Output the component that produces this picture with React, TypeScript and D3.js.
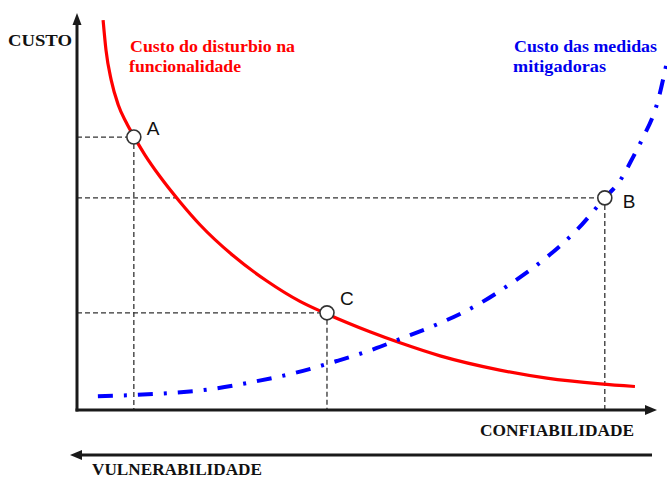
import React from "react";
import * as d3 from "d3";

// curve readings (confiabilidade 0-100, custo 0-100)
const redX = [4.5, 5.0, 5.9, 7.1, 8.45, 9.83, 11.7, 14.3, 17.8, 21.2, 26.9, 32.8, 38.45, 43.1, 50.5, 55.7, 62.6, 72.9, 81.0, 90.2, 96.2];
const redY = [98.7, 91.1, 83.5, 77.3, 72.9, 69.2, 64.6, 59.1, 52.6, 46.9, 39.1, 32.6, 27.5, 24.3, 19.8, 17.0, 13.7, 10.1, 8.05, 6.6, 5.95];

const blueX = [3.6, 16.0, 23.3, 30.3, 37.6, 44.8, 51.7, 55.2, 62.6, 69.0, 75.0, 81.0, 86.2, 91.0, 93.6, 95.9, 97.4, 100.2, 101.7];
const blueY = [3.5, 4.3, 5.3, 7.1, 9.4, 12.4, 15.7, 17.7, 22.0, 26.6, 32.2, 38.7, 45.6, 53.7, 58.0, 64.1, 68.4, 78.5, 88.1];

const pointLabels = ["A", "B", "C"];
const pointX = [9.8, 91.0, 43.1];
const pointY = [69.1, 53.7, 24.6];

const redTitle = ["Custo do disturbio na", "funcionalidade"];
const blueTitle = ["Custo das medidas", "mitigadoras"];

const W = 667;
const H = 477;
const x0 = 77;
const y0 = 410;

const serif = "'Liberation Serif', 'Times New Roman', serif";
const sans = "'Liberation Sans', Arial, sans-serif";

export default function App() {
  const x = d3.scaleLinear().domain([0, 100]).range([x0, 657]);
  const y = d3.scaleLinear().domain([0, 100]).range([y0, 15]);

  const line = d3
    .line<[number, number]>()
    .x((d) => x(d[0]))
    .y((d) => y(d[1]))
    .curve(d3.curveMonotoneX);

  const red = line(redX.map((v, i) => [v, redY[i]]));
  const blue = line(blueX.map((v, i) => [v, blueY[i]]));

  const axisColor = "#1a1a1a";
  const dash = "#333";

  return (
    <svg
      width={W}
      height={H}
      style={{ position: "absolute", left: 0, top: 0, background: "#fff" }}
    >
      {/* guide lines */}
      {pointLabels.map((lab, i) => (
        <g key={lab}>
          <line
            x1={x0}
            x2={x(pointX[i]) - 7}
            y1={y(pointY[i])}
            y2={y(pointY[i])}
            stroke={dash}
            strokeWidth={1.3}
            strokeDasharray="5 3"
          />
          <line
            x1={x(pointX[i])}
            x2={x(pointX[i])}
            y1={y(pointY[i]) + 7}
            y2={y0}
            stroke={dash}
            strokeWidth={1.3}
            strokeDasharray="5 3"
          />
        </g>
      ))}

      {/* curves */}
      <path d={red ?? ""} fill="none" stroke="#ff0000" strokeWidth={3.2} />
      <path
        d={blue ?? ""}
        fill="none"
        stroke="#0000ff"
        strokeWidth={4}
        strokeDasharray="15 11 3 11"
      />

      {/* axes */}
      <line x1={x0} x2={x0} y1={y0 + 1.5} y2={22} stroke={axisColor} strokeWidth={3} />
      <path d={`M${x0},13 L${x0 - 4.5},25 L${x0 + 4.5},25 Z`} fill={axisColor} />
      <line x1={x0 - 1.5} x2={647} y1={y0} y2={y0} stroke={axisColor} strokeWidth={3} />
      <path d={`M657,${y0} L645,${y0 - 5} L645,${y0 + 5} Z`} fill={axisColor} />

      <line x1={652} x2={80} y1={455} y2={455} stroke={axisColor} strokeWidth={3} />
      <path d="M70,455 L82,450 L82,460 Z" fill={axisColor} />

      {/* points */}
      {pointLabels.map((lab, i) => (
        <g key={lab}>
          <circle
            cx={x(pointX[i])}
            cy={y(pointY[i])}
            r={7}
            fill="#fff"
            stroke="#333"
            strokeWidth={1.6}
          />
          <text
            x={x(pointX[i]) + (i === 1 ? 18 : 13)}
            y={y(pointY[i]) + (i === 1 ? 10 : -2) - (i === 2 ? 6 : 0)}
            fontFamily={sans}
            fontSize={19}
            fill="#111"
          >
            {lab}
          </text>
        </g>
      ))}

      {/* axis titles */}
      <g fontFamily={serif} fontWeight="bold" fontSize={16} fill="#111">
        <text x={8} y={46} textLength={64} lengthAdjust="spacingAndGlyphs">
          CUSTO
        </text>
        <text x={480} y={436} textLength={154} lengthAdjust="spacingAndGlyphs">
          CONFIABILIDADE
        </text>
        <text x={92} y={475} textLength={170} lengthAdjust="spacingAndGlyphs">
          VULNERABILIDADE
        </text>
      </g>

      {/* curve titles */}
      <g fontFamily={serif} fontWeight="bold" fontSize={17}>
        <text x={130} y={52} fill="#ff0000" textLength={165} lengthAdjust="spacingAndGlyphs">
          {redTitle[0]}
        </text>
        <text x={129} y={72} fill="#ff0000" textLength={112} lengthAdjust="spacingAndGlyphs">
          {redTitle[1]}
        </text>
        <text x={514} y={52} fill="#0000ee" textLength={143} lengthAdjust="spacingAndGlyphs">
          {blueTitle[0]}
        </text>
        <text x={513} y={72} fill="#0000ee" textLength={93} lengthAdjust="spacingAndGlyphs">
          {blueTitle[1]}
        </text>
      </g>
    </svg>
  );
}
